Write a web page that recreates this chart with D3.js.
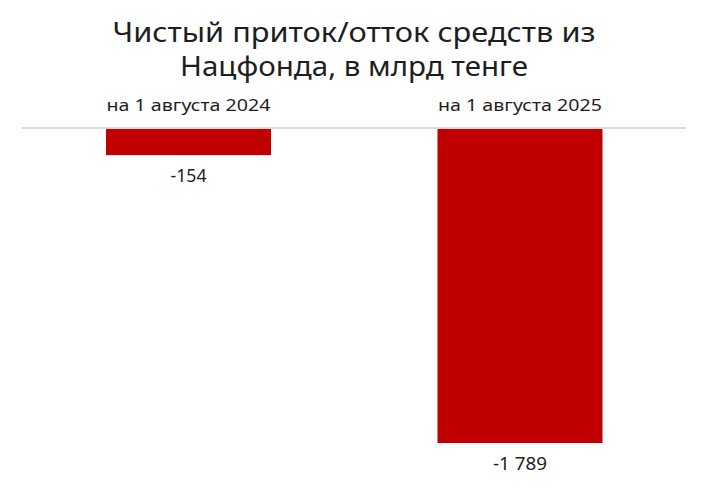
<!DOCTYPE html>
<html><head><meta charset="utf-8">
<script src="https://cdn.jsdelivr.net/npm/d3@7"></script>
<style>html,body{margin:0;padding:0;background:#fff;}svg{display:block;}</style>
</head><body>
<svg id="c" width="708" height="504"></svg>
<script>
const titleLines = ["Чистый приток/отток средств из", "Нацфонда, в млрд тенге"];
const categories = ["на 1 августа 2024", "на 1 августа 2025"];
const values = [-154, -1789];
const valueLabels = ["-154", "-1 789"];

// layout (text widths matched to the reference's wide geometric typeface)
const titleWidths = [483, 348];
const catWidth = 164;
const valueWidths = [36, 54];

const svg = d3.select("#c");
const font = "'Noto Sans', sans-serif";
const ink = "#1e1e1e";

const x = d3.scalePoint().domain(categories).range([188.5, 520]);
const bw = 165;
const y = d3.scaleLinear().domain([0, d3.min(values)]).range([128, 443]);

svg.append("g").selectAll("text").data(titleLines).join("text")
  .attr("x", 354).attr("y", (d,i)=>42 + i*34)
  .attr("text-anchor","middle")
  .attr("font-family", font).attr("font-size", 27).attr("font-weight", 400)
  .attr("textLength", (d,i)=>titleWidths[i]).attr("lengthAdjust","spacingAndGlyphs")
  .attr("fill",ink).text(d=>d);

svg.append("line").attr("x1",22).attr("x2",686).attr("y1",y(0)).attr("y2",y(0))
  .attr("stroke","#d9d9d9").attr("stroke-width",2);

svg.append("g").selectAll("rect").data(values).join("rect")
  .attr("x",(d,i)=>x(categories[i]) - bw/2)
  .attr("width",bw)
  .attr("y",d=>y(0)+1)
  .attr("height",d=>y(d)-y(0)-1)
  .attr("fill","#c00000");

svg.append("g").selectAll("text").data(categories).join("text")
  .attr("x",d=>x(d)).attr("y",111)
  .attr("text-anchor","middle")
  .attr("font-family", font).attr("font-size", 16.5)
  .attr("textLength", catWidth).attr("lengthAdjust","spacingAndGlyphs")
  .attr("fill",ink).text(d=>d);

svg.append("g").selectAll("text").data(values).join("text")
  .attr("x",(d,i)=>x(categories[i])).attr("y",d=>y(d)+27)
  .attr("text-anchor","middle")
  .attr("font-family", font).attr("font-size", 17.5)
  .attr("textLength", (d,i)=>valueWidths[i]).attr("lengthAdjust","spacingAndGlyphs")
  .attr("fill",ink).text((d,i)=>valueLabels[i]);
</script>
</body></html>
